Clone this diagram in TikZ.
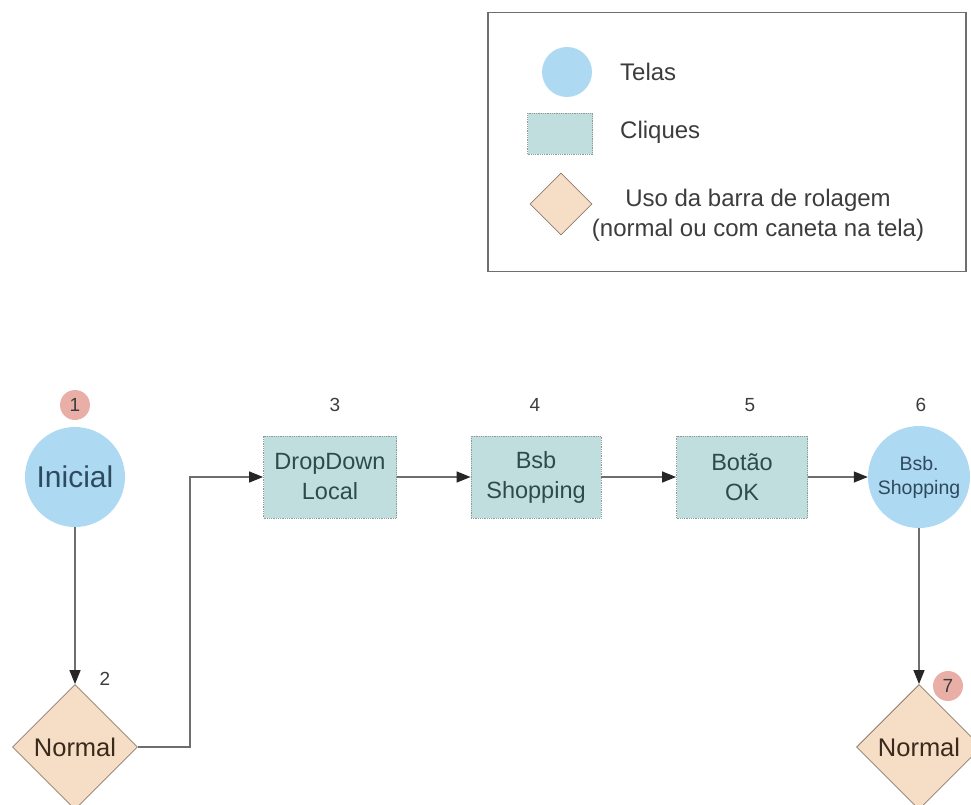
\documentclass[tikz,border=0pt]{standalone}
\usepackage{fontspec}
\setmainfont{Liberation Sans}
\usetikzlibrary{shapes.geometric,arrows.meta}

\definecolor{telafill}{HTML}{AED9F2}
\definecolor{telatext}{HTML}{2E4A5E}
\definecolor{cliquefill}{HTML}{C1DEDF}
\definecolor{cliqueborder}{HTML}{8C9A9A}
\definecolor{cliquetext}{HTML}{2F4A4C}
\definecolor{rolfill}{HTML}{F6DDC6}
\definecolor{rolborder}{HTML}{8E7C6C}
\definecolor{roltext}{HTML}{3A2A1C}
\definecolor{badgefill}{HTML}{E9AFA7}
\definecolor{linegray}{HTML}{6E6E6E}
\definecolor{labelgray}{HTML}{3C3C3C}

\tikzset{
  tela/.style={circle, fill=telafill, text=telatext, inner sep=0pt, align=center},
  clique/.style={rectangle, fill=cliquefill, draw=cliqueborder, densely dotted, line width=0.8pt,
    text=cliquetext, align=center, inner sep=0pt, font=\fontsize{23.5}{30}\selectfont},
  rolagem/.style={diamond, aspect=1, fill=rolfill, draw=rolborder, line width=0.8pt,
    text=roltext, inner sep=0pt, font=\fontsize{25.5}{28}\selectfont},
  badge/.style={circle, fill=badgefill, text=labelgray, minimum size=30pt, inner sep=0pt,
    font=\fontsize{19}{21}\selectfont},
  numlabel/.style={text=labelgray, inner sep=0pt, font=\fontsize{19}{21}\selectfont},
  legtext/.style={text=labelgray, inner sep=0pt, font=\fontsize{24}{30}\selectfont},
  flow/.style={draw=linegray, line width=1.3pt, -{Triangle[length=14pt,width=11pt,fill=black!85,color=black!85]}}
}

\begin{document}
\begin{tikzpicture}[x=1pt,y=-1pt]
  \useasboundingbox (0,0) rectangle (971,805);
  \clip (0,0) rectangle (971,805);

  % legend
  \node (legbox) [draw=linegray, line width=1.4pt, minimum width=478pt, minimum height=259pt,
    inner sep=0pt] at (727,142) {};
  \node (legtela) [tela, minimum size=50pt] at (567,72) {};
  \node (legclique) [clique, minimum width=65pt, minimum height=41pt] at (560,134) {};
  \node (legrol) [rolagem, minimum width=62pt, minimum height=62pt] at (561,204) {};
  \node (legt1) [legtext, anchor=west] at (620,72) {Telas};
  \node (legt2) [legtext, anchor=west] at (620,132) {Cliques};
  \node (legt3) [legtext, align=center] at (758,215) {Uso da barra de rolagem\\(normal ou com caneta na tela)};

  % flow nodes
  \node (n1) [tela, minimum size=100pt, font=\fontsize{30}{32}\selectfont] at (75,477) {Inicial};
  \node (n2) [rolagem, minimum width=125pt, minimum height=125pt] at (75,747) {Normal};
  \node (n3) [clique, minimum width=133pt, minimum height=82pt] at (330,477) {DropDown\\Local};
  \node (n4) [clique, minimum width=130pt, minimum height=82pt] at (536,477) {Bsb\\Shopping};
  \node (n5) [clique, minimum width=131pt, minimum height=82pt] at (742,477) {Botão\\OK};
  \node (n6) [tela, minimum size=102pt, font=\fontsize{19.5}{24}\selectfont] at (919,477) {Bsb.\\Shopping};
  \node (n7) [rolagem, minimum width=125pt, minimum height=125pt] at (919,747) {Normal};

  % step numbers
  \node (b1) [badge] at (75,405) {1};
  \node (l2) [numlabel] at (105,679) {2};
  \node (l3) [numlabel] at (335,405) {3};
  \node (l4) [numlabel] at (535,405) {4};
  \node (l5) [numlabel] at (750,405) {5};
  \node (l6) [numlabel] at (921,405) {6};
  \node (b7) [badge] at (948,686) {7};

  % connectors
  \coordinate (bend) at (190,747);
  \draw[flow] (n1) -- (n2.north);
  \draw[flow] (n2.east) -- (bend) |- (n3.west);
  \draw[flow] (n3) -- (n4);
  \draw[flow] (n4) -- (n5);
  \draw[flow] (n5) -- (n6);
  \draw[flow] (n6) -- (n7.north);
\end{tikzpicture}
\end{document}
